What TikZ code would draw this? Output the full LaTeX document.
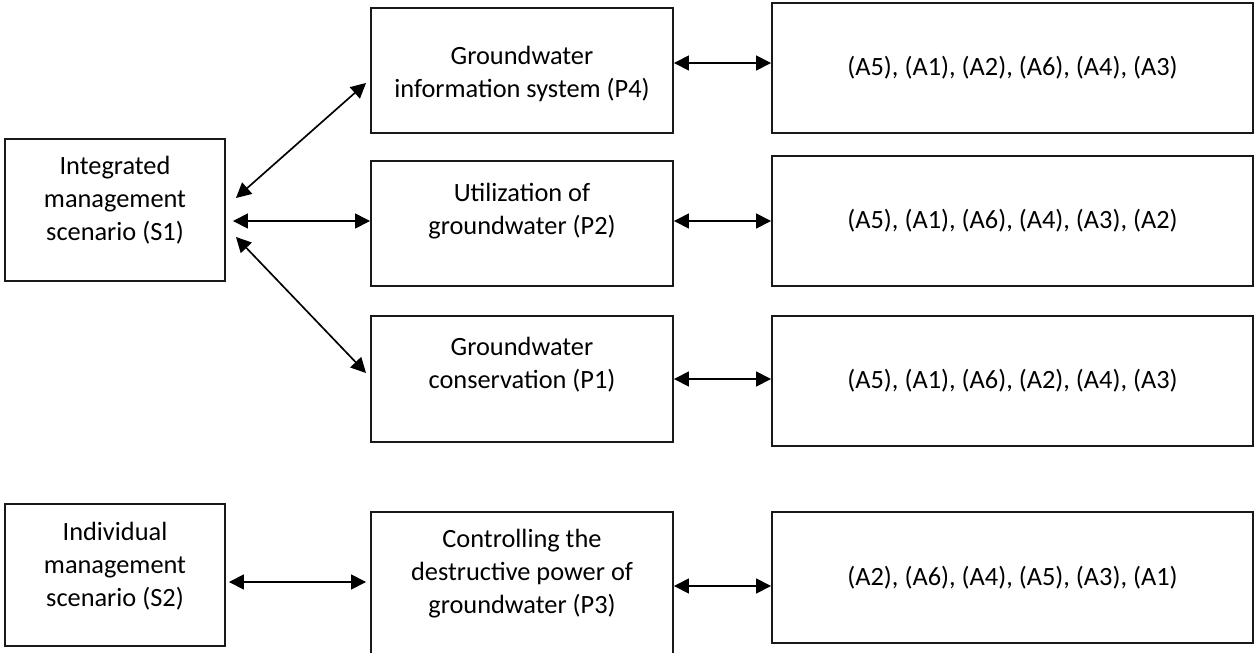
\documentclass[tikz,border=0pt]{standalone}
\usepackage{fontspec}
\setmainfont{Carlito}
\usepackage{tikz}
\usetikzlibrary{arrows.meta}

\begin{document}
\begin{tikzpicture}[>={Triangle[length=0.3cm,width=0.3cm]},
  box/.style={draw=black!90,line width=1.1pt,inner sep=0pt},
  lbl/.style={align=center,font=\fontsize{15}{18.8}\selectfont},
  link/.style={<->,line width=0.95pt}]
\useasboundingbox (0,0) rectangle (25.1,-13.04);
% scenarios
\node[box,minimum width=4.4cm,minimum height=2.84cm,label={[lbl,yshift=0.2cm]center:Integrated\\management\\scenario (S1)}] (s1) at (2.3,-4.2) {};
\node[box,minimum width=4.4cm,minimum height=2.84cm,label={[lbl,yshift=0.18cm]center:Individual\\management\\scenario (S2)}] (s2) at (2.3,-11.5) {};
% policies
\node[box,minimum width=6.04cm,minimum height=2.5cm,label={[lbl,yshift=-0.06cm]center:Groundwater\\information system (P4)}] (p4) at (10.44,-1.41) {};
\node[box,minimum width=6.04cm,minimum height=2.5cm,label={[lbl,yshift=0.25cm]center:Utilization of\\groundwater (P2)}] (p2) at (10.44,-4.47) {};
\node[box,minimum width=6.04cm,minimum height=2.52cm,label={[lbl,yshift=0.28cm]center:Groundwater\\conservation (P1)}] (p1) at (10.44,-7.58) {};
\node[box,minimum width=6.04cm,minimum height=2.96cm,label={[lbl,yshift=0.24cm]center:Controlling the\\destructive power of\\groundwater (P3)}] (p3) at (10.44,-11.72) {};
% rankings
\node[box,lbl,minimum width=9.62cm,minimum height=2.6cm] (rk4) at (20.25,-1.36) {(A5), (A1), (A2), (A6), (A4), (A3)};
\node[box,lbl,minimum width=9.62cm,minimum height=2.6cm] (rk2) at (20.25,-4.42) {(A5), (A1), (A6), (A4), (A3), (A2)};
\node[box,lbl,minimum width=9.62cm,minimum height=2.6cm] (rk1) at (20.25,-7.62) {(A5), (A1), (A6), (A2), (A4), (A3)};
\node[box,lbl,minimum width=9.62cm,minimum height=2.62cm] (rk3) at (20.25,-11.55) {(A2), (A6), (A4), (A5), (A3), (A1)};
% links
\draw[link] ([xshift=0.2cm,yshift=0.24cm]s1.east) -- ([xshift=-0.08cm,yshift=-0.25cm]p4.west);
\draw[link] ([xshift=0.14cm,yshift=-0.22cm]s1.east) -- ([yshift=-0.22cm]s1.east -| p2.west);
\draw[link] ([xshift=0.2cm,yshift=-0.54cm]s1.east) -- ([xshift=-0.08cm,yshift=0.12cm]p1.west);
\draw[link] ([xshift=0.06cm,yshift=-0.14cm]s2.east) -- ([xshift=-0.08cm,yshift=-0.14cm]s2.east -| p3.west);
\draw[link] ([yshift=0.15cm]p4.east) -- ([yshift=0.15cm]p4.east -| rk4.west);
\draw[link] ([yshift=0.05cm]p2.east) -- ([yshift=0.05cm]p2.east -| rk2.west);
\draw[link] (p1.east) -- (p1.east -| rk1.west);
\draw[link] (p3.east) -- (p3.east -| rk3.west);
\end{tikzpicture}
\end{document}
